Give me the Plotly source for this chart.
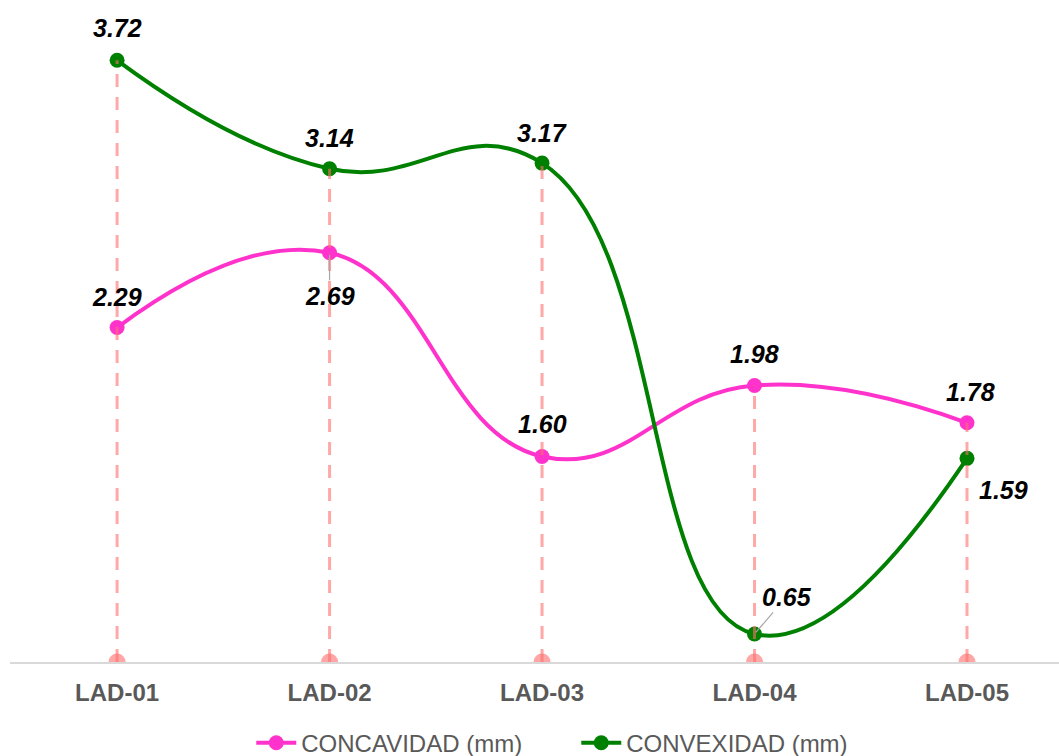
import plotly.graph_objects as go

# Sample identifiers and measured values (mm)
categories = ["LAD-01", "LAD-02", "LAD-03", "LAD-04", "LAD-05"]
concavidad = [2.29, 2.69, 1.60, 1.98, 1.78]
convexidad = [3.72, 3.14, 3.17, 0.65, 1.59]

series_names = ["CONCAVIDAD (mm)", "CONVEXIDAD (mm)"]
series_colors = ["#FF33CC", "#008000"]

# Label placement (pixel offsets from each point): (dx, dy, leader line)
conc_label_pos = [(0, -31, False), (0, 43, True), (0, -32, False), (0, -31, False), (3, -31, False)]
conv_label_pos = [(0, -32, False), (0, -31, False), (0, -30, False), (32, -37, True), (36, 32, False)]

Y_MIN, Y_MAX = 0.5, 4.0
drop_color = "rgba(255,110,110,0.6)"
label_font = dict(family="Liberation Sans, Arial, sans-serif", size=25,
                  color="#000000", weight="bold", style="italic")

fig = go.Figure()

# Half-disc markers where drop lines meet the axis
fig.add_trace(go.Scatter(x=categories, y=[Y_MIN] * len(categories), mode="markers",
                         marker=dict(color="#FFA6A6", size=17), cliponaxis=True,
                         showlegend=False, hoverinfo="skip"))

for name, vals, color in zip(series_names, [concavidad, convexidad], series_colors):
    fig.add_trace(go.Scatter(
        x=categories, y=vals, name=name, mode="lines+markers",
        line=dict(color=color, width=4, shape="spline", smoothing=1.3),
        marker=dict(color=color, size=15), cliponaxis=False,
    ))

# Dashed, translucent drop lines from the higher series down to the axis
tops = [max(a, b) for a, b in zip(concavidad, convexidad)]
for cat, top in zip(categories, tops):
    fig.add_shape(type="line", xref="x", yref="y", x0=cat, x1=cat, y0=Y_MIN, y1=top,
                  line=dict(color=drop_color, width=3, dash="13px,10px"), layer="above")

for vals, positions in [(concavidad, conc_label_pos), (convexidad, conv_label_pos)]:
    for cat, v, (dx, dy, leader) in zip(categories, vals, positions):
        if leader:
            fig.add_annotation(x=cat, y=v, xref="x", yref="y", text=f"{v:.2f}",
                               showarrow=True, arrowhead=0, arrowwidth=1.2,
                               arrowcolor="#A6A6A6", ax=dx, ay=dy, standoff=2,
                               font=label_font)
        else:
            fig.add_annotation(x=cat, y=v, xref="x", yref="y", text=f"{v:.2f}",
                               showarrow=False, xshift=dx, yshift=-dy,
                               font=label_font)

fig.update_layout(
    width=1059, height=756,
    margin=dict(l=10, r=0, t=8, b=94, autoexpand=False),
    paper_bgcolor="white", plot_bgcolor="white",
    font=dict(family="Liberation Sans, Arial, sans-serif"),
    showlegend=True,
    legend=dict(orientation="h", x=0.23, xanchor="left", y=-0.124, yanchor="middle",
                font=dict(size=24, color="#595959"), itemwidth=40,
                entrywidth=270, entrywidthmode="pixels"),
    xaxis=dict(type="category", range=[-0.504, 4.433], showgrid=False,
               showline=True, linecolor="#D9D9D9", linewidth=2,
               ticks="outside", ticklen=8, tickcolor="rgba(0,0,0,0)",
               tickfont=dict(size=24, color="#595959", weight="bold"), zeroline=False),
    yaxis=dict(range=[Y_MIN, Y_MAX], showgrid=False, showticklabels=False,
               zeroline=False, showline=False),
)

fig.write_html("out.html")
